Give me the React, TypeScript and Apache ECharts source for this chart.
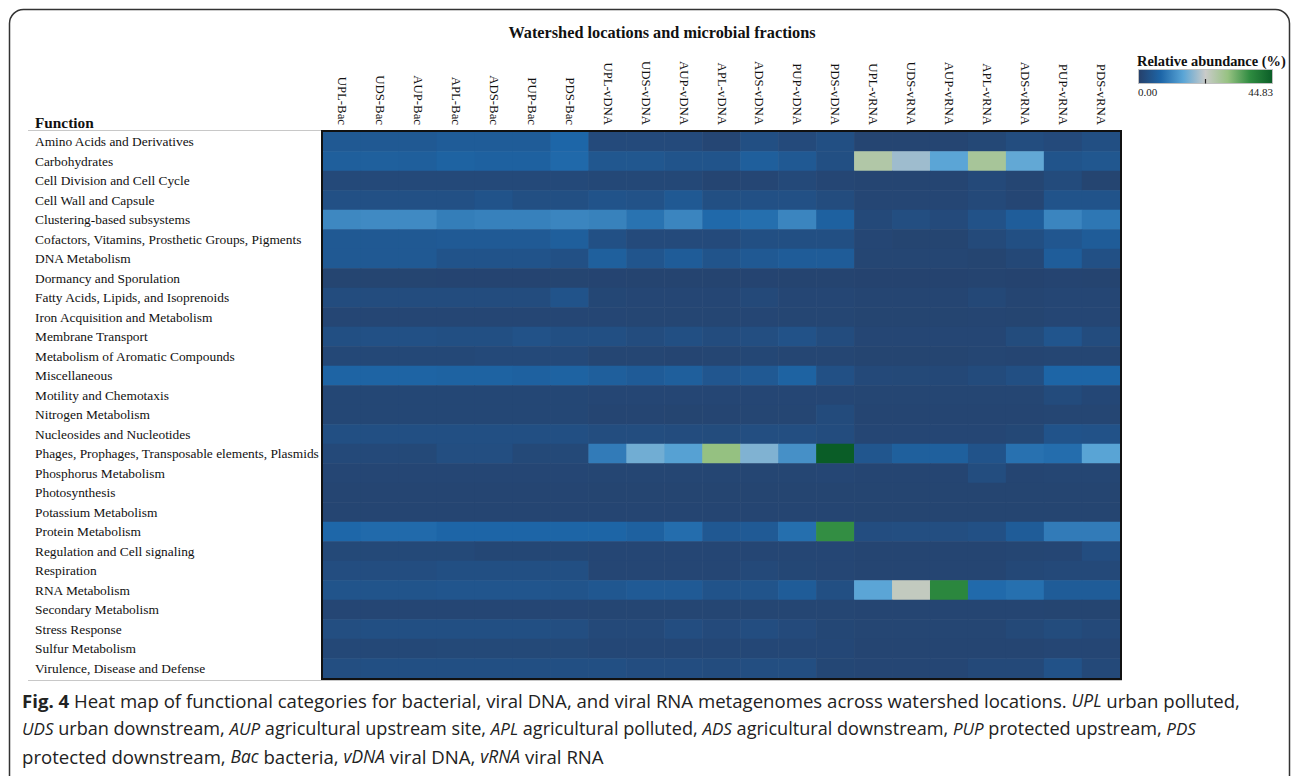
import React, { useEffect, useRef } from "react";
import * as echarts from "echarts";

const samples = [
  "UPL-Bac", "UDS-Bac", "AUP-Bac", "APL-Bac", "ADS-Bac", "PUP-Bac", "PDS-Bac",
  "UPL-vDNA", "UDS-vDNA", "AUP-vDNA", "APL-vDNA", "ADS-vDNA", "PUP-vDNA", "PDS-vDNA",
  "UPL-vRNA", "UDS-vRNA", "AUP-vRNA", "APL-vRNA", "ADS-vRNA", "PUP-vRNA", "PDS-vRNA",
];

const functions = [
  "Amino Acids and Derivatives",
  "Carbohydrates",
  "Cell Division and Cell Cycle",
  "Cell Wall and Capsule",
  "Clustering-based subsystems",
  "Cofactors, Vitamins, Prosthetic Groups, Pigments",
  "DNA Metabolism",
  "Dormancy and Sporulation",
  "Fatty Acids, Lipids, and Isoprenoids",
  "Iron Acquisition and Metabolism",
  "Membrane Transport",
  "Metabolism of Aromatic Compounds",
  "Miscellaneous",
  "Motility and Chemotaxis",
  "Nitrogen Metabolism",
  "Nucleosides and Nucleotides",
  "Phages, Prophages, Transposable elements, Plasmids",
  "Phosphorus Metabolism",
  "Photosynthesis",
  "Potassium Metabolism",
  "Protein Metabolism",
  "Regulation and Cell signaling",
  "Respiration",
  "RNA Metabolism",
  "Secondary Metabolism",
  "Stress Response",
  "Sulfur Metabolism",
  "Virulence, Disease and Defense",
];

// Relative abundance (%) — bacteria (UPL, UDS, AUP, APL, ADS, PUP, PDS)
const bacValues = [
  [5.0, 5.0, 5.0, 5.5, 5.5, 5.5, 7.5],
  [6.0, 6.2, 6.0, 6.8, 6.5, 6.5, 7.8],
  [1.8, 1.8, 1.8, 1.8, 1.8, 1.8, 1.8],
  [3.2, 3.2, 3.2, 3.2, 3.8, 3.0, 3.0],
  [11.5, 11.8, 11.8, 10.3, 10.7, 10.7, 11.2],
  [5.0, 5.0, 5.0, 5.2, 5.2, 5.2, 6.0],
  [5.0, 5.0, 5.0, 3.8, 3.8, 3.8, 3.2],
  [0.9, 0.9, 0.9, 0.8, 0.8, 0.8, 0.9],
  [2.4, 2.4, 2.4, 2.4, 2.4, 2.4, 3.8],
  [1.2, 1.2, 1.2, 1.2, 1.2, 1.2, 1.2],
  [3.0, 3.2, 3.2, 3.0, 3.0, 3.6, 3.0],
  [1.6, 1.6, 1.6, 1.6, 1.8, 1.8, 1.8],
  [7.0, 7.0, 7.0, 6.8, 6.8, 6.5, 6.8],
  [1.3, 1.3, 1.3, 1.3, 1.3, 1.3, 1.3],
  [1.3, 1.3, 1.3, 1.3, 1.3, 1.3, 1.3],
  [3.0, 3.0, 3.0, 3.0, 3.0, 3.0, 3.0],
  [1.8, 1.8, 1.7, 2.8, 2.8, 1.7, 1.7],
  [1.2, 1.2, 1.2, 1.2, 1.2, 1.2, 1.2],
  [1.0, 1.0, 1.0, 1.0, 1.0, 1.0, 1.0],
  [1.0, 1.0, 1.0, 1.0, 1.0, 1.0, 1.0],
  [7.6, 8.0, 8.0, 7.3, 7.3, 7.3, 7.2],
  [1.7, 1.7, 1.7, 1.7, 1.3, 1.3, 1.3],
  [2.6, 2.6, 2.6, 3.0, 3.0, 3.0, 3.0],
  [4.0, 4.0, 4.0, 4.2, 4.2, 4.2, 4.0],
  [1.2, 1.2, 1.2, 1.2, 1.2, 1.2, 1.2],
  [2.8, 3.0, 3.0, 3.0, 3.0, 3.0, 2.8],
  [1.6, 1.6, 1.6, 1.7, 1.7, 1.7, 1.7],
  [2.8, 3.0, 3.0, 3.0, 3.0, 3.0, 3.0],
];

// viral DNA
const vdnaValues = [
  [2.0, 2.0, 2.0, 1.2, 3.0, 2.0, 3.0],
  [4.5, 4.5, 4.0, 4.0, 6.0, 5.0, 3.0],
  [1.6, 1.6, 1.6, 1.0, 1.2, 1.8, 1.2],
  [3.8, 3.6, 5.0, 3.0, 3.2, 3.2, 2.4],
  [10.8, 9.0, 11.2, 7.8, 8.5, 11.2, 6.5],
  [3.2, 2.0, 2.0, 2.0, 3.0, 3.0, 3.0],
  [6.2, 4.2, 5.5, 4.0, 5.0, 5.5, 5.5],
  [0.8, 0.7, 0.7, 0.7, 0.8, 0.7, 0.7],
  [1.3, 1.2, 1.2, 1.2, 1.8, 1.2, 1.2],
  [1.2, 1.1, 1.1, 1.1, 1.2, 1.1, 1.1],
  [3.0, 2.4, 3.0, 2.4, 2.8, 3.6, 2.4],
  [1.1, 1.1, 1.0, 1.1, 1.3, 1.1, 1.1],
  [6.0, 5.4, 6.0, 4.4, 5.0, 6.8, 3.2],
  [1.2, 1.2, 1.2, 1.2, 1.2, 1.2, 1.2],
  [1.0, 1.0, 0.9, 1.0, 1.1, 1.1, 2.2],
  [2.5, 2.5, 2.4, 2.3, 2.8, 2.8, 2.4],
  [10.0, 16.5, 14.5, 30.0, 17.5, 12.5, 44.83],
  [1.1, 1.1, 1.1, 1.1, 1.1, 1.1, 1.2],
  [0.9, 0.9, 0.9, 0.9, 0.9, 0.9, 0.9],
  [1.0, 1.0, 1.0, 1.0, 1.0, 1.0, 1.0],
  [7.2, 6.5, 8.3, 4.8, 5.2, 8.5, 37.0],
  [1.2, 1.2, 1.2, 1.2, 1.2, 1.2, 1.2],
  [1.2, 1.2, 1.2, 1.2, 1.8, 1.3, 1.2],
  [4.6, 5.2, 5.2, 3.8, 4.0, 5.6, 3.0],
  [1.1, 1.1, 1.1, 1.1, 1.1, 1.1, 1.1],
  [1.8, 1.8, 2.6, 2.0, 2.6, 2.0, 1.3],
  [1.4, 1.4, 1.4, 1.4, 1.4, 1.4, 1.4],
  [3.0, 2.6, 2.6, 2.4, 2.8, 2.8, 1.3],
];

// viral RNA
const vrnaValues = [
  [1.0, 1.0, 1.0, 1.5, 2.5, 2.0, 3.0],
  [26.0, 19.5, 15.0, 27.5, 15.5, 4.0, 4.5],
  [1.0, 1.0, 1.0, 1.8, 1.1, 2.2, 0.9],
  [1.2, 1.2, 1.2, 1.8, 1.2, 3.8, 3.8],
  [1.8, 2.8, 2.0, 3.6, 5.8, 11.2, 9.5],
  [1.2, 0.9, 0.9, 1.9, 3.0, 4.4, 5.5],
  [1.1, 1.1, 1.1, 0.9, 1.6, 5.8, 3.2],
  [0.6, 0.6, 0.6, 0.7, 0.6, 0.8, 0.7],
  [1.0, 1.0, 1.0, 1.6, 1.0, 1.2, 1.2],
  [0.9, 0.9, 0.9, 1.0, 0.9, 1.2, 1.2],
  [1.2, 1.2, 1.2, 1.2, 2.3, 4.2, 2.4],
  [0.9, 0.9, 0.9, 1.1, 1.0, 1.1, 1.1],
  [1.8, 1.7, 1.6, 2.2, 3.0, 7.2, 7.2],
  [1.1, 1.1, 1.1, 1.1, 1.1, 2.2, 1.4],
  [1.0, 1.0, 1.0, 1.0, 1.0, 1.1, 1.1],
  [1.2, 1.2, 1.2, 1.2, 1.5, 3.8, 3.6],
  [4.3, 6.2, 6.2, 3.8, 8.8, 8.3, 14.8],
  [1.0, 1.0, 1.0, 2.5, 1.0, 1.1, 1.1],
  [0.9, 0.9, 0.9, 0.9, 0.9, 0.9, 0.9],
  [0.9, 0.9, 0.9, 0.9, 0.9, 0.9, 0.9],
  [2.6, 2.8, 2.8, 3.2, 5.6, 10.0, 10.0],
  [1.0, 1.0, 1.0, 1.0, 1.1, 1.2, 2.6],
  [1.0, 1.0, 1.0, 1.0, 1.6, 1.8, 1.8],
  [15.0, 23.5, 38.0, 8.0, 8.6, 5.6, 5.6],
  [1.0, 1.0, 1.0, 1.0, 1.0, 0.9, 0.9],
  [1.1, 1.1, 1.1, 1.1, 1.7, 2.3, 1.8],
  [1.0, 1.0, 1.0, 1.0, 1.0, 1.2, 1.2],
  [1.2, 1.2, 1.2, 1.8, 1.8, 3.6, 1.8],
];

const scaleMin = 0;
const scaleMax = 44.83;
const scaleColors = ["#26406a", "#1d66a8", "#5aa5d6", "#c9cbc9", "#97c282", "#2e8b40", "#0a5d27"];

const SERIF = "'Liberation Serif', 'Times New Roman', serif";
const SANS = "'Open Sans', 'Noto Sans', sans-serif";
const CAP_SIZES = [
  { n: 18.6, i: 17.4 },
  { n: 18.1, i: 17.0 },
  { n: 18.6, i: 17.4 },
];

export default function App() {
  const ref = useRef<HTMLDivElement>(null);

  useEffect(() => {
    if (!ref.current) return;
    const chart = echarts.init(ref.current, null, { renderer: "svg" });

    const data: number[][] = [];
    functions.forEach((_f, r) => {
      const row = [...bacValues[r], ...vdnaValues[r], ...vrnaValues[r]];
      row.forEach((v, c) => data.push([c, r, v]));
    });

    const gLeft = 323, gTop = 132, gRight = 1120, gBottom = 678;

    const captionLines = [
      "{b|Fig. 4}{n| Heat map of functional categories for bacterial, viral DNA, and viral RNA metagenomes across watershed locations. }{i|UPL}{n| urban polluted,}",
      "{i|UDS}{n| urban downstream, }{i|AUP}{n| agricultural upstream site, }{i|APL}{n| agricultural polluted, }{i|ADS}{n| agricultural downstream, }{i|PUP}{n| protected upstream, }{i|PDS}",
      "{n|protected downstream, }{i|Bac}{n| bacteria, }{i|vDNA}{n| viral DNA, }{i|vRNA}{n| viral RNA}",
    ];

    const gradStops = scaleColors.map((c, i) => ({ offset: i / (scaleColors.length - 1), color: c }));

    chart.setOption({
      animation: false,
      backgroundColor: "#ffffff",
      grid: { left: gLeft, top: gTop, width: gRight - gLeft, height: gBottom - gTop },
      xAxis: {
        type: "category",
        data: samples,
        position: "top",
        axisLine: { show: false },
        axisTick: { show: false },
        splitLine: { show: false },
        axisLabel: {
          rotate: 90,
          interval: 0,
          margin: 7,
          fontFamily: SERIF,
          fontSize: 12.8,
          color: "#111",
        },
      },
      yAxis: {
        type: "category",
        data: functions,
        inverse: true,
        axisLine: { show: false },
        axisTick: { show: false },
        splitLine: { show: false },
        axisLabel: {
          interval: 0,
          align: "left",
          margin: gLeft - 35,
          fontFamily: SERIF,
          fontSize: 13.4,
          color: "#111",
        },
      },
      visualMap: {
        show: false,
        type: "continuous",
        min: scaleMin,
        max: scaleMax,
        dimension: 2,
        inRange: { color: scaleColors },
      },
      series: [
        {
          type: "heatmap",
          data,
          z: 2,
          itemStyle: { borderWidth: 0 },
          emphasis: { disabled: true },
        },
      ],
      graphic: [
        {
          type: "rect",
          z: -10,
          shape: { x: 9.5, y: 9.5, width: 1280, height: 820, r: 14 },
          style: { fill: "none", stroke: "#333", lineWidth: 1.5 },
        },
        {
          type: "text",
          x: 662,
          y: 32,
          style: {
            text: "Watershed locations and microbial fractions",
            fontFamily: SERIF,
            fontSize: 16.3,
            fontWeight: "bold",
            fill: "#111",
            textAlign: "center",
            textVerticalAlign: "middle",
          },
        },
        {
          type: "text",
          x: 35,
          y: 122,
          style: {
            text: "Function",
            fontFamily: SERIF,
            fontSize: 15.3,
            fontWeight: "bold",
            fill: "#111",
            textAlign: "left",
            textVerticalAlign: "middle",
          },
        },
        {
          type: "line",
          z: -5,
          shape: { x1: 28, y1: 130.5, x2: 322, y2: 130.5 },
          style: { stroke: "#c8c8c8", lineWidth: 1 },
        },
        {
          type: "line",
          z: -5,
          shape: { x1: 28, y1: 680.5, x2: 1122, y2: 680.5 },
          style: { stroke: "#c8c8c8", lineWidth: 1 },
        },
        {
          type: "rect",
          z: 1,
          shape: { x: gLeft + 1, y: gTop + 1, width: gRight - gLeft + 1, height: gBottom - gTop + 1 },
          style: { fill: "#b8b8b8" },
        },
        {
          type: "rect",
          z: 100,
          shape: { x: gLeft - 1, y: gTop - 1, width: gRight - gLeft + 2, height: gBottom - gTop + 2 },
          style: { fill: "none", stroke: "#111", lineWidth: 2 },
        },
        {
          type: "text",
          x: 1137,
          y: 61,
          style: {
            text: "Relative abundance (%)",
            fontFamily: SERIF,
            fontSize: 14.4,
            fontWeight: "bold",
            fill: "#111",
            textAlign: "left",
            textVerticalAlign: "middle",
          },
        },
        {
          type: "rect",
          shape: { x: 1138.5, y: 69.5, width: 134, height: 14 },
          style: {
            fill: new echarts.graphic.LinearGradient(0, 0, 1, 0, gradStops),
            stroke: "#c0c0c0",
            lineWidth: 1,
          },
        },
        {
          type: "line",
          shape: { x1: 1205.5, y1: 79, x2: 1205.5, y2: 83.5 },
          style: { stroke: "#222", lineWidth: 1.2 },
        },
        {
          type: "text",
          x: 1138,
          y: 92,
          style: {
            text: "0.00",
            fontFamily: SERIF,
            fontSize: 11,
            fill: "#222",
            textAlign: "left",
            textVerticalAlign: "middle",
          },
        },
        {
          type: "text",
          x: 1273,
          y: 92,
          style: {
            text: "44.83",
            fontFamily: SERIF,
            fontSize: 11,
            fill: "#222",
            textAlign: "right",
            textVerticalAlign: "middle",
          },
        },
        ...captionLines.map((t, i) => ({
          type: "text",
          x: 22,
          y: 700 + i * 28,
          style: {
            text: t,
            rich: {
              b: { fontFamily: SANS, fontSize: CAP_SIZES[i].n, fontWeight: "bold", fill: "#222" },
              i: { fontFamily: SANS, fontSize: CAP_SIZES[i].i, fontStyle: "italic", fill: "#222" },
              n: { fontFamily: SANS, fontSize: CAP_SIZES[i].n, fill: "#222" },
            },
            fontFamily: SANS,
            fontSize: CAP_SIZES[i].n,
            fill: "#222",
            textAlign: "left",
            textVerticalAlign: "middle",
          },
        })),
      ],
    });

    return () => chart.dispose();
  }, []);

  return (
    <div
      ref={ref}
      style={{ position: "absolute", left: 0, top: 0, width: 1292, height: 776 }}
    />
  );
}
